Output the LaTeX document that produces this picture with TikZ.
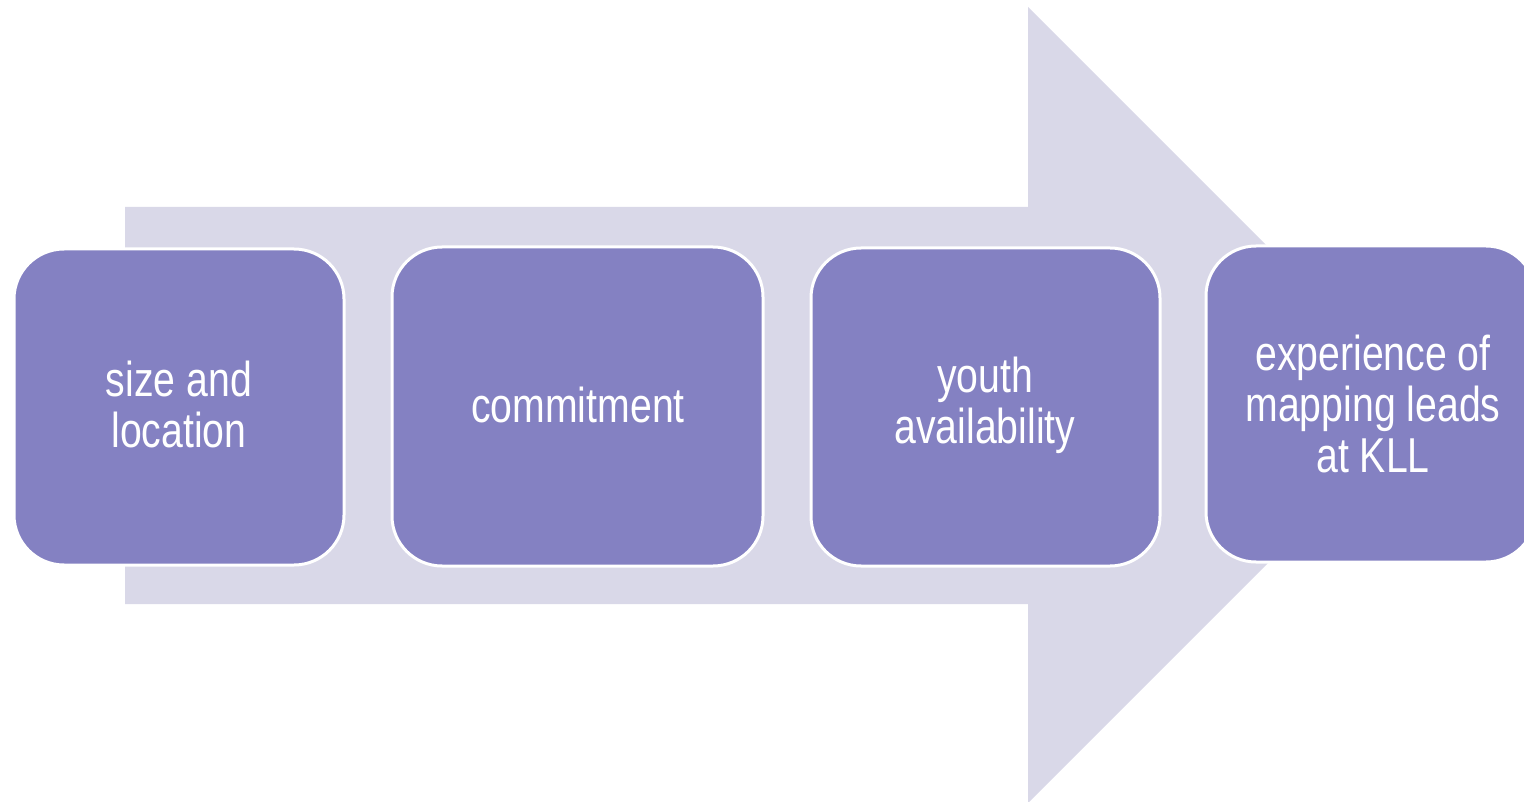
\documentclass[tikz,border=0pt]{standalone}
\usepackage{fontspec}
\setmainfont{Liberation Sans}[FakeStretch=0.8]
\definecolor{arrowc}{HTML}{D9D8E8}
\definecolor{boxc}{HTML}{8481C2}
\begin{document}
\begin{tikzpicture}[x=1pt,y=-1pt,
  stepbox/.style={fill=boxc,draw=white,line width=3pt,rounded corners=50pt},
  lbl/.style={text=white,align=center,font=\fontsize{49}{51}\selectfont}]
\useasboundingbox (0,0) rectangle (1524,802);
\clip (0,0) rectangle (1524,802);
\fill[arrowc] (125,207) -- (1028,207) -- (1028,7) -- (1426,405) -- (1028,803) -- (1028,604) -- (125,604) -- cycle;
\draw[stepbox] (14,249) rectangle (344,565);
\draw[stepbox] (392,247) rectangle (763,566);
\draw[stepbox] (811,248) rectangle (1160,566);
\draw[stepbox] (1206,246) rectangle (1536,562);
\node[lbl] (a) at (179,404) {size and\\location};
\node[lbl] (b) at (578,405) {commitment};
\node[lbl] (c) at (985,405) {youth\\availability};
\node[lbl] (d) at (1373,404) {experience of\\mapping leads\\at KLL};
\end{tikzpicture}
\end{document}
